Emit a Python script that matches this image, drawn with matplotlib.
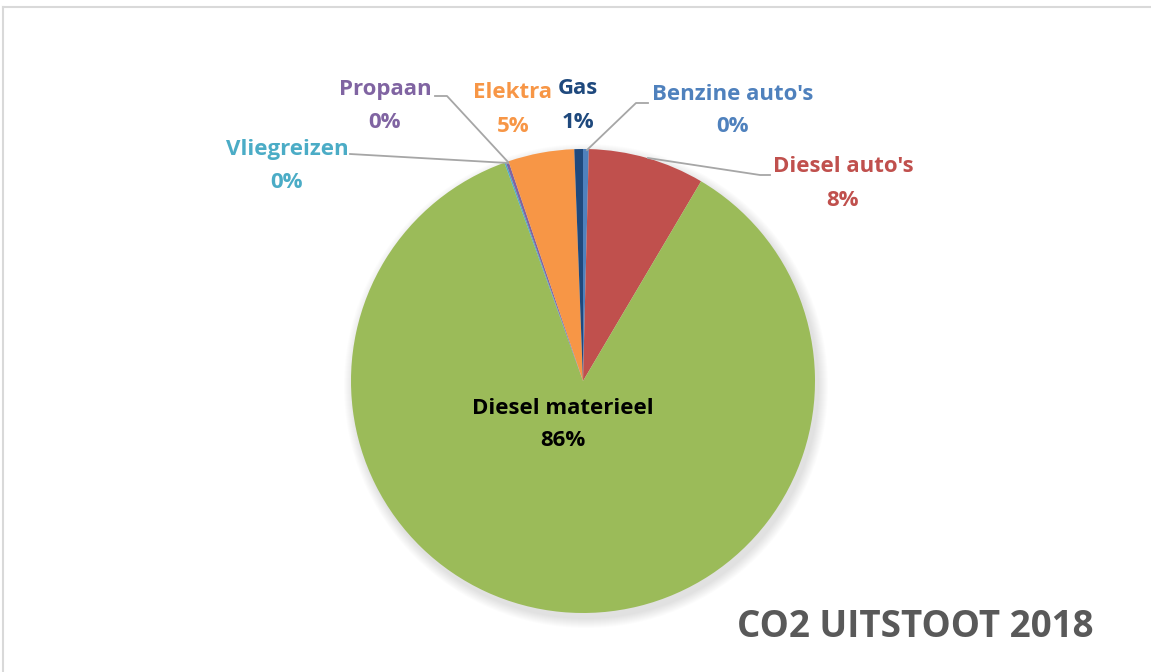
from matplotlib import pyplot as plt
import numpy as np

# CO2 uitstoot 2018, aandeel per bron (%)
bronnen = ["Benzine auto's", "Diesel auto's", "Diesel materieel",
           "Vliegreizen", "Propaan", "Elektra", "Gas"]
aandeel = [0.4, 8.1, 86.0, 0.1, 0.2, 4.6, 0.6]
kleuren = ["#4F81BD", "#C0504D", "#9BBB59", "#4BACC6",
           "#8064A2", "#F79646", "#1F497D"]
label_kleuren = ["#4F81BD", "#C0504D", "#000000", "#4BACC6",
                 "#8064A2", "#F79646", "#1F497D"]

W, H = 1151, 672
plt.rcParams['font.family'] = ['Open Sans', 'DejaVu Sans']

fig = plt.figure(figsize=(W / 100, H / 100), dpi=100)
ax = fig.add_axes([0, 0, 1, 1])

def py(y):
    return H - y

cx, cy, r = 583, py(381), 232

# zachte schaduw
for i in range(10):
    ax.add_patch(plt.Circle((cx + 3, cy - 5), r + 10 - i, color='black',
                            alpha=0.01, lw=0, zorder=1))

wedges, _ = ax.pie(aandeel, colors=kleuren, startangle=90, counterclock=False,
                   center=(cx, cy), radius=r, frame=True,
                   wedgeprops=dict(linewidth=0, zorder=2))
ax.set_xlim(0, W)
ax.set_ylim(0, H)
ax.set_aspect('equal')
ax.axis('off')

# label posities (midden van de naam) in pixels
label_pos = [(733, 94), (843, 167), (563, 408), (287, 149),
             (385, 89), (513, 93), (578, 89)]
for naam, v, kl, (x, y) in zip(bronnen, aandeel, label_kleuren, label_pos):
    ax.text(x, py(y), naam, ha='center', va='center', fontsize=16,
            fontweight='bold', color=kl, zorder=5)
    ax.text(x, py(y + 33), f"{round(v)}%", ha='center', va='center',
            fontsize=16, fontweight='bold', color=kl, zorder=5)

# leader lines
lijn = dict(color='#A6A6A6', lw=1.3, zorder=4)
ax.plot([587, 636, 648], [py(150), py(103), py(103)], **lijn)
ax.plot([648, 760, 770], [py(158), py(175), py(175)], **lijn)
ax.plot([508, 447, 435], [py(162), py(96), py(96)], **lijn)
ax.plot([508, 350], [py(163), py(154)], **lijn)

ax.text(1094, py(627), "CO2 UITSTOOT 2018", ha='right', va='center',
        fontsize=26.5, fontweight='bold', color='#595959', zorder=5)

# rand van het grafiekgebied
ax.plot([3, W], [py(7), py(7)], color='#D9D9D9', lw=1.5, zorder=6)
ax.plot([3, 3], [py(7), 0], color='#D9D9D9', lw=1.5, zorder=6)

fig.savefig('out.png', dpi=100, facecolor='white')
